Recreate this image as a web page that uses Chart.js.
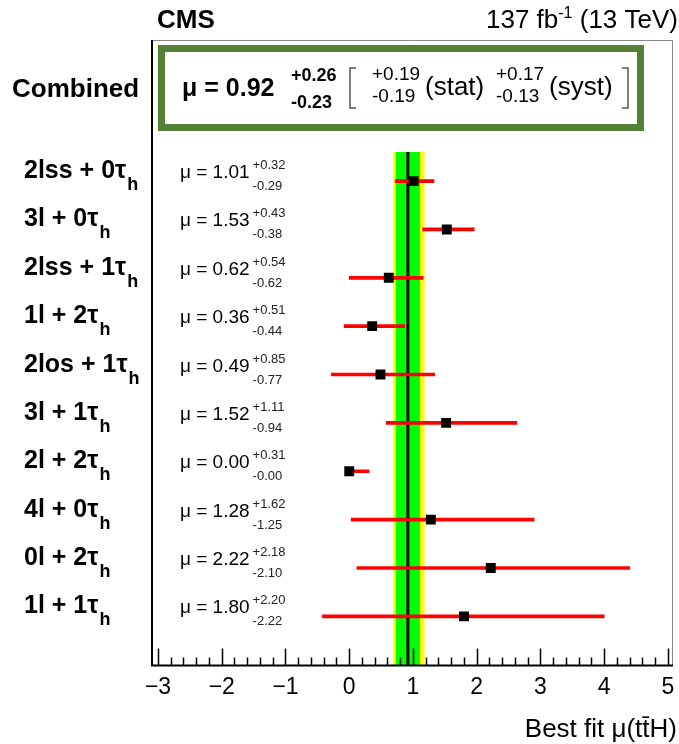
<!DOCTYPE html>
<html>
<head>
<meta charset="utf-8">
<script src="https://cdn.jsdelivr.net/npm/chart.js@4.4.1/dist/chart.umd.min.js"></script>
<style>
  html, body { margin: 0; padding: 0; background: #fff; }
  #wrap { width: 679px; height: 744px; }
</style>
</head>
<body>
<div id="wrap"><canvas id="chart1" width="679" height="744"></canvas></div>
<script>
// channels, top to bottom (all end in tau_h, the "h" is drawn as subscript)
const categories = ['2lss + 0τ', '3l + 0τ', '2lss + 1τ', '1l + 2τ', '2los + 1τ',
                    '3l + 1τ', '2l + 2τ', '4l + 0τ', '0l + 2τ', '1l + 1τ'];
const mu      = [1.01, 1.53, 0.62, 0.36, 0.49, 1.52, 0.00, 1.28, 2.22, 1.80];
const errUp   = [0.32, 0.43, 0.54, 0.51, 0.85, 1.11, 0.31, 1.62, 2.18, 2.20];
const errDown = [0.29, 0.38, 0.62, 0.44, 0.77, 0.94, 0.00, 1.25, 2.10, 2.22];

// combined result
const combMu = 0.92;
const combTot  = [0.26, 0.23];  // up, down
const combStat = [0.19, 0.19];
const combSyst = [0.17, 0.13];

const xTicks = [-3, -2, -1, 0, 1, 2, 3, 4, 5];

const FONT = '"Liberation Sans", Arial, sans-serif';

const errBars = mu.map((m, i) => ({ x: [m - errDown[i], m + errUp[i]], y: i }));
const points = mu.map((m, i) => ({ x: m, y: i }));

function font(size, bold) {
  return (bold ? 'bold ' : '') + size + 'px ' + FONT;
}

// bands + vertical line behind the points
const bandPlugin = {
  id: 'bands',
  beforeDatasetsDraw(chart) {
    const { ctx, chartArea, scales: { x, y } } = chart;
    const top = y.getPixelForValue(-0.6);
    const bottom = chartArea.bottom;
    ctx.save();
    ctx.fillStyle = '#ffff00';
    let l = x.getPixelForValue(combMu - combTot[1]);
    let r = x.getPixelForValue(combMu + combTot[0]);
    ctx.fillRect(l, top, r - l, bottom - top);
    ctx.fillStyle = '#00ff00';
    l = x.getPixelForValue(combMu - combStat[1]);
    r = x.getPixelForValue(combMu + combStat[0]);
    ctx.fillRect(l, top, r - l, bottom - top);
    ctx.strokeStyle = '#000';
    ctx.lineWidth = 3;
    ctx.beginPath();
    ctx.moveTo(x.getPixelForValue(combMu), top);
    ctx.lineTo(x.getPixelForValue(combMu), bottom);
    ctx.stroke();
    ctx.restore();
  }
};

function supSub(ctx, x, yUp, yDn, up, dn, f) {
  ctx.font = f;
  ctx.fillText(up, x, yUp);
  ctx.fillText(dn, x, yDn);
  return Math.max(ctx.measureText(up).width, ctx.measureText(dn).width);
}

function bracket(ctx, x, dir) {
  ctx.beginPath();
  ctx.moveTo(x + 6 * dir, 68); ctx.lineTo(x, 68); ctx.lineTo(x, 108); ctx.lineTo(x + 6 * dir, 108);
  ctx.stroke();
}

const textPlugin = {
  id: 'texts',
  afterDraw(chart) {
    const { ctx, chartArea: ca, scales: { x, y } } = chart;
    ctx.save();

    // frame
    ctx.strokeStyle = '#888';
    ctx.lineWidth = 1;
    ctx.beginPath();
    ctx.moveTo(ca.left, ca.top + 0.5);
    ctx.lineTo(ca.right + 0.5, ca.top + 0.5);
    ctx.lineTo(ca.right + 0.5, ca.bottom);
    ctx.stroke();
    ctx.strokeStyle = '#000';
    ctx.lineWidth = 2;
    ctx.beginPath();
    ctx.moveTo(ca.left, ca.top);
    ctx.lineTo(ca.left, ca.bottom);
    ctx.lineTo(ca.right + 1, ca.bottom);
    ctx.stroke();

    // ticks (inward)
    ctx.lineWidth = 1.5;
    ctx.beginPath();
    for (let k = 0; k <= 40; k++) {
      const v = -3 + k * 0.2;
      const px = Math.round(x.getPixelForValue(v)) + 0.5;
      const len = k % 5 === 0 ? 17 : 8;
      ctx.moveTo(px, ca.bottom);
      ctx.lineTo(px, ca.bottom - len);
    }
    ctx.stroke();

    ctx.fillStyle = '#000';
    ctx.textBaseline = 'alphabetic';

    // header
    ctx.textAlign = 'left';
    ctx.font = font(26, true);
    ctx.fillText('CMS', 157, 28);
    ctx.textAlign = 'right';
    ctx.font = font(26, false);
    const rt = ' (13 TeV)';
    ctx.fillText(rt, 678, 28);
    let w = ctx.measureText(rt).width;
    ctx.font = font(16, false);
    ctx.fillText('-1', 678 - w, 18);
    w += ctx.measureText('-1').width;
    ctx.font = font(26, false);
    ctx.fillText('137 fb', 678 - w, 28);

    // axis title
    ctx.font = font(26, false);
    ctx.fillText('Best fit μ(tt̄H)', 677, 737);

    // channel rows
    ctx.textAlign = 'left';
    categories.forEach((c, i) => {
      const py = y.getPixelForValue(i);
      ctx.font = font(25, true);
      ctx.fillText(c, 24, py - 3);
      const cw = ctx.measureText(c).width;
      ctx.font = font(18, true);
      ctx.fillText('h', 25 + cw, py + 9);

      ctx.font = font(19, false);
      const t = 'μ = ' + mu[i].toFixed(2);
      const x0 = ca.left + 28;
      ctx.fillText(t, x0, py - 3);
      const tw = ctx.measureText(t).width;
      ctx.fillStyle = '#222';
      supSub(ctx, x0 + tw + 3, py - 12, py + 9,
        '+' + errUp[i].toFixed(2), '-' + errDown[i].toFixed(2), font(13, false));
      ctx.fillStyle = '#000';
    });

    // combined
    ctx.font = font(26, true);
    ctx.fillText('Combined', 12, 97);

    // green box
    ctx.strokeStyle = '#548235';
    ctx.lineWidth = 7;
    ctx.strokeRect(161.5, 48.5, 479, 79);

    ctx.font = font(25, true);
    ctx.fillText('μ = ' + combMu.toFixed(2), 182, 96);
    supSub(ctx, 291, 81, 108, '+' + combTot[0].toFixed(2), '-' + combTot[1].toFixed(2), font(18, true));

    ctx.strokeStyle = '#555';
    ctx.lineWidth = 1.5;
    bracket(ctx, 350, 1);
    supSub(ctx, 372, 80, 102, '+' + combStat[0].toFixed(2), '-' + combStat[1].toFixed(2), font(19, false));
    ctx.font = font(26, false);
    ctx.fillText('(stat)', 425, 95);
    supSub(ctx, 496, 80, 102, '+' + combSyst[0].toFixed(2), '-' + combSyst[1].toFixed(2), font(19, false));
    ctx.font = font(26, false);
    ctx.fillText('(syst)', 549, 95);
    bracket(ctx, 628, -1);

    ctx.restore();
  }
};

const config = {
  data: {
    datasets: [
      {
        type: 'scatter',
        data: points,
        pointStyle: 'rect',
        pointRadius: 7,
        pointHoverRadius: 7,
        backgroundColor: '#000',
        borderColor: '#000',
        borderWidth: 0,
        order: 0,
      },
      {
        type: 'bar',
        indexAxis: 'y',
        data: errBars,
        backgroundColor: '#ff0000',
        barThickness: 3,
        borderWidth: 0,
        order: 1,
      },
    ],
  },
  options: {
    responsive: false,
    animation: false,
    devicePixelRatio: 1,
    layout: { padding: { left: 152, right: 4, top: 40, bottom: 35 } },
    plugins: { legend: { display: false }, tooltip: { enabled: false } },
    scales: {
      x: {
        type: 'linear',
        min: -3.094,
        max: 5.063,
        offset: false,
        grid: { display: false, drawTicks: false, offset: false },
        border: { display: false },
        afterBuildTicks: (s) => { s.ticks = xTicks.map((v) => ({ value: v })); },
        afterFit: (s) => { s.paddingLeft = 0; s.paddingRight = 0; },
        ticks: {
          autoSkip: false,
          maxRotation: 0,
          padding: 8,
          color: '#000',
          font: { family: FONT, size: 23 },
          callback: (v) => (v < 0 ? '\u2212' + Math.abs(v) : String(v)),
        },
      },
      y: {
        type: 'linear',
        reverse: true,
        min: -2.917,
        max: 10.014,
        offset: false,
        grid: { offset: false },
        display: false,
      },
    },
  },
  plugins: [bandPlugin, textPlugin],
};

var myChart = new Chart(document.getElementById('chart1'), config);
</script>
</body>
</html>
